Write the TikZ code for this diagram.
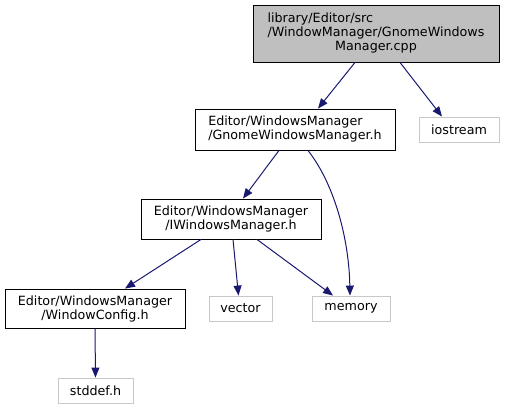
\documentclass[tikz,border=0pt]{standalone}
\usepackage{fontspec}
\setmainfont{DejaVu Sans}
\usetikzlibrary{arrows.meta}
\definecolor{edgeblue}{HTML}{191970}
\definecolor{boxgray}{HTML}{BFBFBF}
\definecolor{extgray}{HTML}{C8C8C8}
\tikzset{
  base/.style={rectangle, inner sep=0pt, font=\fontsize{12.7}{14}\selectfont, line width=0.9pt, align=center},
  docbox/.style={base, draw=black, fill=white},
  mainbox/.style={base, draw=black, fill=boxgray},
  extbox/.style={base, draw=extgray, fill=white},
  edge/.style={draw=edgeblue, line width=1pt, -{Triangle[length=10pt,width=8pt]}}
}
\begin{document}
\begin{tikzpicture}[x=1pt,y=-1pt]
\useasboundingbox (0,0) rectangle (505,409);
\node[mainbox, minimum width=246pt, minimum height=57pt] (top) at (376,33.5)
  {\begin{tabular}{@{}l@{}}library/Editor/src\\/WindowManager/GnomeWindows\\\multicolumn{1}{@{}c@{}}{Manager.cpp}\end{tabular}};
\node[docbox, minimum width=200pt, minimum height=41pt] (gwm) at (295,129.5)
  {\begin{tabular}{@{}l@{}}Editor/WindowsManager\\/GnomeWindowsManager.h\end{tabular}};
\node[extbox, minimum width=80pt, minimum height=25pt] (ios) at (459,129.5) {iostream};
\node[docbox, minimum width=180pt, minimum height=40pt] (iwm) at (231,219)
  {Editor/WindowsManager\\/IWindowsManager.h};
\node[docbox, minimum width=180pt, minimum height=39pt] (wc) at (95,308.5)
  {Editor/WindowsManager\\/WindowConfig.h};
\node[extbox, minimum width=63pt, minimum height=25pt] (vec) at (240.5,308.5) {vector};
\node[extbox, minimum width=78pt, minimum height=25pt] (mem) at (351,308.5) {memory};
\node[extbox, minimum width=75pt, minimum height=25pt] (std) at (95.5,390.5) {stddef.h};

\draw[edge] ([xshift=-21pt]top.south) -- ([xshift=23pt]gwm.north);
\draw[edge] ([xshift=24pt]top.south) -- ([xshift=-17pt]ios.north);
\draw[edge] ([xshift=-16pt]gwm.south) -- ([xshift=12pt]iwm.north);
\draw[edge] ([xshift=13pt]gwm.south) .. controls (335,185) and (349,240) .. ([xshift=-1pt]mem.north);
\draw[edge] ([xshift=-30pt]iwm.south) -- ([xshift=30pt]wc.north);
\draw[edge] ([xshift=2pt]iwm.south) -- ([xshift=-2pt]vec.north);
\draw[edge] ([xshift=26pt]iwm.south) -- ([xshift=-18pt]mem.north);
\draw[edge] (wc.south) -- (std.north);
\end{tikzpicture}
\end{document}
